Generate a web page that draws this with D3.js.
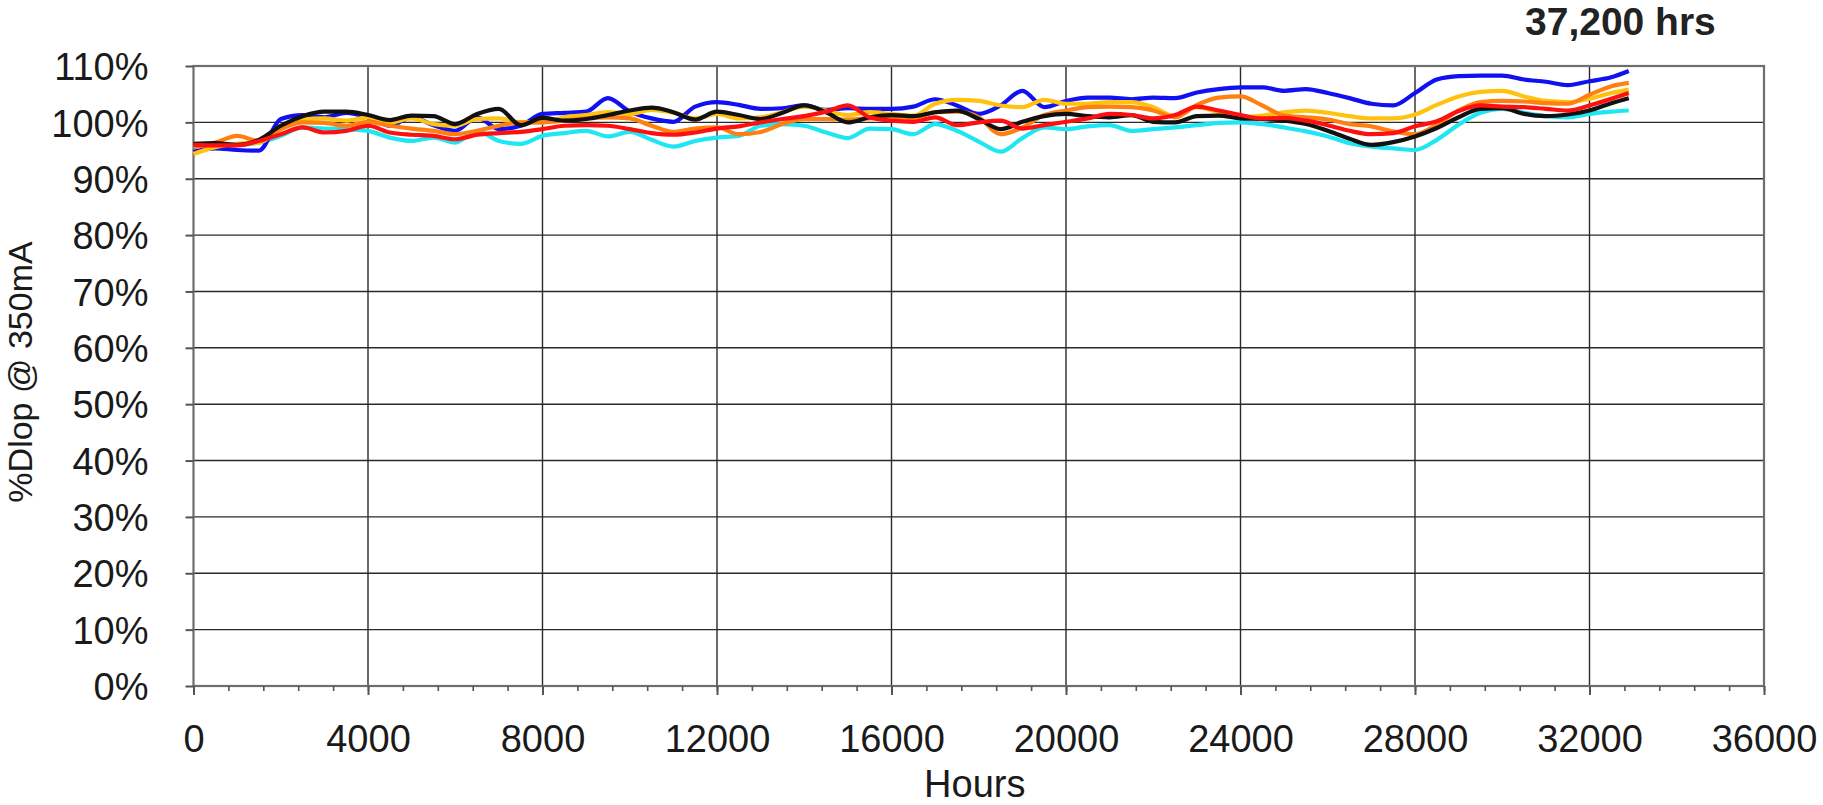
<!DOCTYPE html>
<html>
<head>
<meta charset="utf-8">
<script src="https://cdn.jsdelivr.net/npm/d3@7"></script>
<style>
  body { margin: 0; background: #fff; }
  svg { display: block; font-family: 'Liberation Sans', Arial, sans-serif; }
</style>
</head>
<body>
<svg id="chart" width="1823" height="805"></svg>
<script>
// hours sampled every 500 h, last reading at ~32,900 h
let hours = d3.range(0, 33000, 500).concat([32900])

let blue = [
  94.8, 95.4, 95.1, 95.0, 100.6, 101.3, 100.9, 101.7, 100.9, 99.4, 100.9, 99.5, 98.5, 100.9, 98.8, 99.4, 101.5,
  101.7, 101.9, 104.3, 101.9, 100.7, 100.1, 102.8, 103.6, 103.1, 102.4, 102.5, 103.0, 102.2, 102.5, 102.4, 102.4,
  102.8, 104.1, 103.0, 101.5, 103.0, 105.6, 102.7, 103.8, 104.4, 104.4, 104.1, 104.4, 104.3, 105.3, 105.9, 106.2, 106.2,
  105.6, 105.9, 105.2, 104.3, 103.3, 103.0, 105.2, 107.6, 108.2, 108.3, 108.3, 107.6, 107.2, 106.6, 107.3, 108.0, 109.1
]
let black = [
  96.2, 96.3, 96.0, 96.9, 99.4, 101.1, 101.9, 101.9, 101.3, 100.4, 101.2, 101.1, 99.7, 101.5, 102.4, 99.5, 100.8,
  100.3, 100.6, 101.3, 102.1, 102.6, 101.8, 100.5, 101.9, 101.3, 100.6, 101.7, 103.0, 101.8, 100.0, 100.9, 101.3,
  101.1, 101.8, 102.1, 100.6, 98.8, 100.1, 101.1, 101.5, 101.1, 100.9, 101.3, 100.1, 100.0, 101.1, 101.2, 100.7, 100.6,
  100.3, 99.7, 98.5, 97.1, 96.0, 96.5, 97.5, 99.0, 100.9, 102.4, 102.5, 101.5, 101.1, 101.4, 102.1, 103.4, 104.3
]
let yellow = [
  94.4, 95.6, 96.2, 96.4, 98.8, 100.5, 100.7, 100.3, 100.9, 100.0, 100.7, 99.7, 99.4, 100.6, 100.7, 100.0, 100.0,
  100.9, 101.3, 101.8, 101.5, 102.2, 101.7, 100.7, 101.5, 100.7, 100.9, 101.8, 102.8, 102.1, 101.3, 101.8, 101.5,
  101.2, 103.3, 104.0, 103.8, 103.0, 102.7, 104.0, 103.3, 103.3, 103.6, 103.6, 102.7, 101.1, 102.7, 101.8, 100.9, 101.2,
  101.8, 102.1, 101.7, 101.1, 100.7, 100.7, 101.4, 103.1, 104.6, 105.4, 105.6, 104.6, 103.8, 103.6, 104.2, 105.2, 105.8
]
let orange = [
  95.6, 96.4, 97.6, 96.7, 98.8, 100.0, 99.9, 99.4, 100.1, 99.4, 98.9, 98.5, 97.9, 98.5, 99.4, 100.0, 100.0,
  100.3, 100.7, 100.9, 100.7, 99.4, 98.3, 98.9, 99.1, 97.9, 98.3, 99.7, 100.6, 100.6, 100.5, 100.7, 100.9,
  100.8, 101.8, 101.9, 100.9, 97.9, 99.1, 101.3, 102.1, 102.7, 102.8, 102.7, 102.1, 100.9, 103.1, 104.4, 104.6, 103.0,
  101.2, 100.9, 100.5, 99.7, 99.3, 98.4, 97.9, 99.6, 102.1, 103.6, 103.8, 103.7, 103.4, 103.3, 104.9, 106.4, 107.0
]
let red = [
  96.0, 95.9, 95.9, 96.7, 97.9, 99.1, 98.2, 98.5, 99.4, 98.2, 97.8, 97.6, 97.0, 97.8, 98.1, 98.3, 98.8,
  99.4, 99.5, 99.4, 98.8, 98.1, 97.8, 98.2, 98.9, 99.3, 100.0, 100.6, 101.1, 101.9, 103.0, 100.9, 100.3,
  100.1, 100.9, 99.5, 100.0, 100.3, 98.9, 99.5, 100.1, 100.7, 101.5, 101.3, 100.7, 101.3, 102.8, 102.1, 101.3, 100.7,
  100.8, 100.3, 99.5, 98.5, 97.9, 98.1, 99.3, 100.2, 102.0, 103.0, 102.8, 102.7, 102.4, 102.1, 103.0, 104.2, 105.2
]
let cyan = [
  95.6, 96.2, 96.0, 96.4, 97.6, 99.1, 98.9, 98.8, 98.5, 97.3, 96.7, 97.3, 96.4, 98.5, 96.7, 96.2, 97.6,
  98.1, 98.5, 97.5, 98.3, 96.9, 95.7, 96.7, 97.3, 97.6, 99.4, 99.7, 99.4, 98.2, 97.2, 98.9, 98.8,
  97.9, 99.7, 98.5, 96.6, 94.8, 97.2, 99.1, 98.8, 99.3, 99.5, 98.5, 98.8, 99.1, 99.5, 99.9, 100.0, 99.7,
  99.1, 98.4, 97.5, 96.3, 95.7, 95.4, 95.1, 96.9, 99.6, 101.7, 102.4, 101.7, 101.1, 100.9, 101.5, 101.9, 102.1
]

let xTicks = d3.range(0, 36001, 4000)
let xMinorTicks = d3.range(0, 36001, 800)
let yTicks = d3.range(0, 111, 10)

// drawing order, bottom first
let series = [
  { values: cyan, color: '#1ee6f2' },
  { values: blue, color: '#1010f0' },
  { values: yellow, color: '#ffc20e' },
  { values: orange, color: '#ff7f10' },
  { values: black, color: '#111111' },
  { values: red, color: '#ff1010' }
]

let svg = d3.select('#chart')
let plotLeft = 193.5
let plotRight = 1764
let plotTop = 66
let plotBottom = 686

let x = d3.scaleLinear().domain([0, 36000]).range([plotLeft, plotRight])
let y = d3.scaleLinear().domain([0, 110]).range([plotBottom, plotTop])

// gridlines
svg.append('g')
  .selectAll('line')
  .data(yTicks.slice(1, -1))
  .enter().append('line')
    .attr('x1', plotLeft).attr('x2', plotRight)
    .attr('y1', d => y(d)).attr('y2', d => y(d))
    .attr('stroke', '#2a2a2a').attr('stroke-width', 1.4)

svg.append('g')
  .selectAll('line')
  .data(xTicks.slice(1, -1))
  .enter().append('line')
    .attr('y1', plotTop).attr('y2', plotBottom)
    .attr('x1', d => x(d)).attr('x2', d => x(d))
    .attr('stroke', '#2a2a2a').attr('stroke-width', 1.4)

// frame
svg.append('rect')
  .attr('x', plotLeft).attr('y', plotTop)
  .attr('width', plotRight - plotLeft).attr('height', plotBottom - plotTop)
  .attr('fill', 'none')
  .attr('stroke', '#6e6e6e').attr('stroke-width', 2.2)

// minor x ticks
svg.append('g')
  .attr('transform', 'translate(0,' + plotBottom + ')')
  .call(d3.axisBottom(x).tickValues(xMinorTicks).tickSize(5).tickFormat(''))
  .call(g => g.select('.domain').remove())
  .call(g => g.selectAll('line').attr('stroke', '#555').attr('stroke-width', 1.6))

let xAxis = svg.append('g')
  .attr('transform', 'translate(0,' + plotBottom + ')')
  .call(d3.axisBottom(x).tickValues(xTicks).tickSize(9).tickFormat(d3.format('d')))
xAxis.select('.domain').remove()
xAxis.selectAll('line').attr('stroke', '#555').attr('stroke-width', 2)
xAxis.selectAll('text')
  .attr('y', 66).attr('dy', 0)
  .attr('fill', '#1a1a1a')
  .style('font-size', '38px')
  .style('font-family', "'Liberation Sans', Arial, sans-serif")

let yAxis = svg.append('g')
  .attr('transform', 'translate(' + plotLeft + ',0)')
  .call(d3.axisLeft(y).tickValues(yTicks).tickSize(8).tickPadding(37).tickFormat(d => d + '%'))
yAxis.select('.domain').remove()
yAxis.selectAll('line').attr('stroke', '#555').attr('stroke-width', 2)
yAxis.selectAll('text')
  .attr('dy', '0.36em')
  .attr('fill', '#1a1a1a')
  .style('font-size', '38px')
  .style('font-family', "'Liberation Sans', Arial, sans-serif")

// the series
let line = d3.line()
  .curve(d3.curveMonotoneX)
  .x((d, i) => x(hours[i]))
  .y(d => y(d))

svg.append('g')
  .selectAll('path')
  .data(series)
  .enter().append('path')
    .attr('d', d => line(d.values))
    .attr('fill', 'none')
    .attr('stroke', d => d.color)
    .attr('stroke-width', 4.2)
    .attr('stroke-linejoin', 'round')

// labels
svg.append('text')
  .attr('x', (plotLeft + plotRight) / 2 - 4)
  .attr('y', 797)
  .attr('text-anchor', 'middle')
  .attr('fill', '#1a1a1a')
  .style('font-size', '38px')
  .text('Hours')

svg.append('text')
  .attr('transform', 'translate(32,372) rotate(-90)')
  .attr('text-anchor', 'middle')
  .attr('fill', '#1a1a1a')
  .style('font-size', '34px')
  .text('%Dlop @ 350mA')

svg.append('text')
  .attr('x', 1525)
  .attr('y', 35)
  .attr('fill', '#222')
  .style('font-size', '39px')
  .style('font-weight', 'bold')
  .text('37,200 hrs')
</script>
</body>
</html>
